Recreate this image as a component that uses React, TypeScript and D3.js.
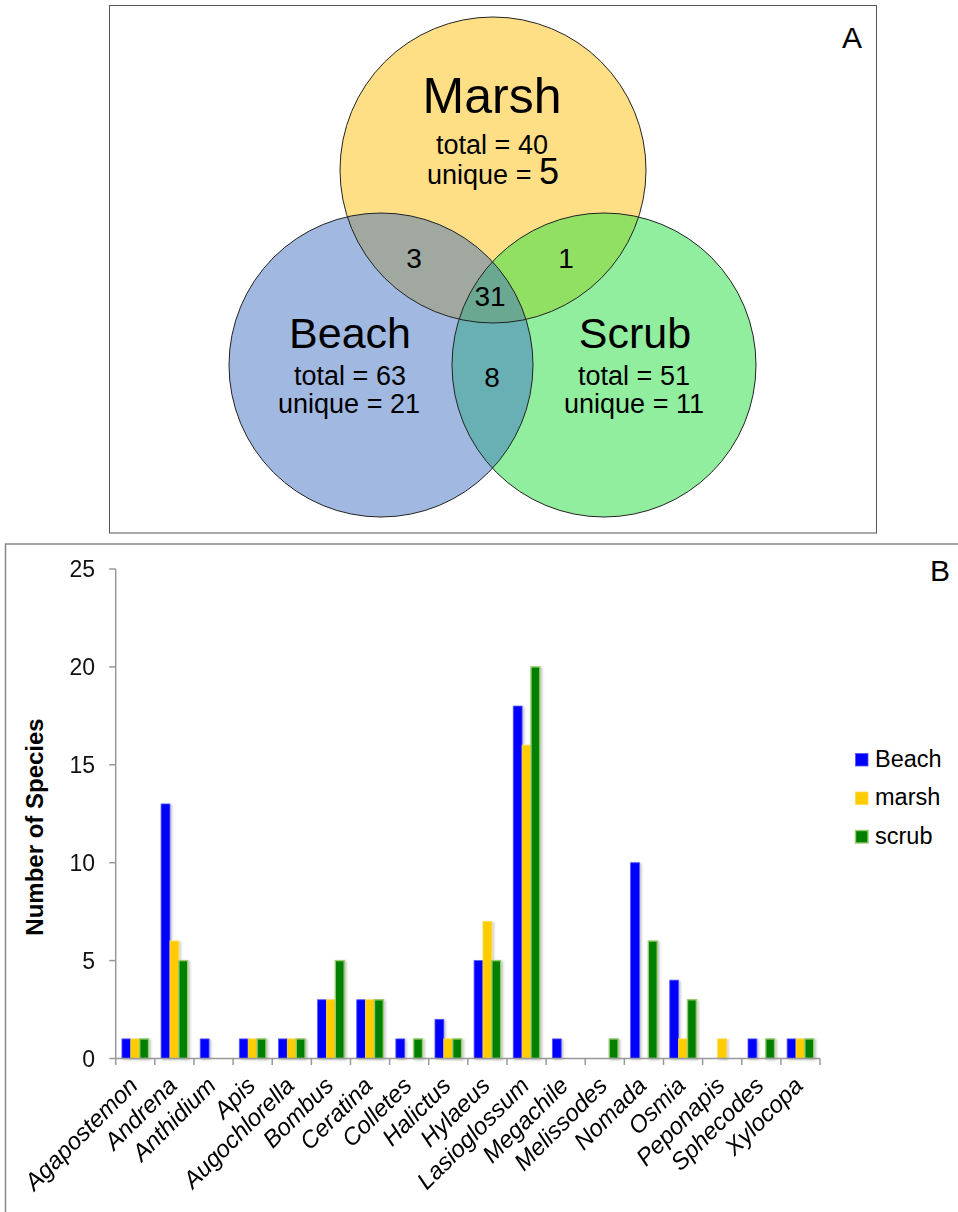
import React from "react";
import * as d3 from "d3";

// bar chart data (panel B)
const genera = [
  "Agapostemon", "Andrena", "Anthidium", "Apis", "Augochlorella", "Bombus",
  "Ceratina", "Colletes", "Halictus", "Hylaeus", "Lasioglossum", "Megachile",
  "Melissodes", "Nomada", "Osmia", "Peponapis", "Sphecodes", "Xylocopa",
];
const beach = [1, 13, 1, 1, 1, 3, 3, 1, 2, 5, 18, 1, 0, 10, 4, 0, 1, 1];
const marsh = [1, 6, 0, 1, 1, 3, 3, 0, 1, 7, 16, 0, 0, 0, 1, 1, 0, 1];
const scrub = [1, 5, 0, 1, 1, 5, 3, 1, 1, 5, 20, 0, 1, 6, 3, 0, 1, 1];
const seriesNames = ["Beach", "marsh", "scrub"];
const yTicks = [0, 5, 10, 15, 20, 25];

// venn data (panel A)
const vennSets = ["Marsh", "Beach", "Scrub"];
const vennTotals = [40, 63, 51];
const vennUnique = [5, 21, 11];
const overlapMB = 3;
const overlapMS = 1;
const overlapBS = 8;
const overlapAll = 31;

const FONT = "'Liberation Sans', Arial, Helvetica, sans-serif";
const barFill = ["#0000ff", "#ffcc00", "#008000"];
const barStroke = ["#5555ff", "#ffd94d", "#9acb72"];

// venn layout
const circ = {
  M: { cx: 493, cy: 170, r: 153 },
  B: { cx: 381, cy: 365, r: 152 },
  S: { cx: 604, cy: 365, r: 152 },
};

export default function App() {
  const x0 = d3.scaleBand<string>().domain(genera).range([115.7, 820]).padding(0);
  const groupW = x0.bandwidth() * 0.68;
  const x1 = d3.scaleBand<string>().domain(seriesNames).range([0, groupW]).padding(0);
  const y = d3.scaleLinear().domain([0, 25]).range([1058.5, 569]);
  const series = [beach, marsh, scrub];
  const axisX = x0.range()[0];
  const axisEnd = x0.range()[1];
  const boundaries = genera.map((g) => x0(g) as number).concat([axisEnd]);

  const c = (k: "M" | "B" | "S") => circ[k];

  return (
    <svg width={958} height={1212} style={{ position: "absolute", left: 0, top: 0, background: "#fff" }}>
      <defs>
        <clipPath id="clipM"><circle cx={c("M").cx} cy={c("M").cy} r={c("M").r} /></clipPath>
        <clipPath id="clipB"><circle cx={c("B").cx} cy={c("B").cy} r={c("B").r} /></clipPath>
        <filter id="shadow" x="-30%" y="-10%" width="160%" height="120%">
          <feDropShadow dx="1.5" dy="1" stdDeviation="1" floodColor="#000" floodOpacity="0.25" />
        </filter>
      </defs>

      {/* Panel A */}
      <rect x={109.5} y={5.5} width={767} height={527.5} fill="#fff" stroke="#555" strokeWidth={1} />
      <circle {...c("M")} fill="#fedf86" />
      <circle {...c("B")} fill="#a1b8e1" />
      <circle {...c("S")} fill="#91ee9f" />
      <g clipPath="url(#clipM)">
        <circle {...c("B")} fill="#a0a89f" />
        <circle {...c("S")} fill="#92e063" />
      </g>
      <g clipPath="url(#clipB)">
        <circle {...c("S")} fill="#68b0b3" />
      </g>
      <g clipPath="url(#clipM)">
        <g clipPath="url(#clipB)">
          <circle {...c("S")} fill="#6aa892" />
        </g>
      </g>
      {(["M", "B", "S"] as const).map((k) => (
        <circle key={k} {...c(k)} fill="none" stroke="#222" strokeWidth={1} />
      ))}

      <g fontFamily={FONT} fill="#000" textAnchor="middle">
        <text x={492} y={113} fontSize={50}>{vennSets[0]}</text>
        <text x={492} y={154} fontSize={27}>{`total = ${vennTotals[0]}`}</text>
        <text x={493} y={184} fontSize={27}>
          {"unique = "}<tspan fontSize={36}>{vennUnique[0]}</tspan>
        </text>

        <text x={350} y={348} fontSize={43}>{vennSets[1]}</text>
        <text x={350} y={385} fontSize={27}>{`total = ${vennTotals[1]}`}</text>
        <text x={349} y={413} fontSize={27}>{`unique = ${vennUnique[1]}`}</text>

        <text x={635} y={348} fontSize={43}>{vennSets[2]}</text>
        <text x={634} y={385} fontSize={27}>{`total = ${vennTotals[2]}`}</text>
        <text x={634} y={413} fontSize={27}>{`unique = ${vennUnique[2]}`}</text>

        <text x={414} y={268} fontSize={28}>{overlapMB}</text>
        <text x={566} y={268} fontSize={28}>{overlapMS}</text>
        <text x={490} y={306} fontSize={28}>{overlapAll}</text>
        <text x={492} y={387} fontSize={28}>{overlapBS}</text>
      </g>
      <text x={862} y={48} fontFamily={FONT} fontSize={30} textAnchor="end">A</text>

      {/* Panel B */}
      <rect x={5.5} y={544} width={980} height={700} fill="none" stroke="#888" strokeWidth={1.5} />
      <text x={950} y={581} fontFamily={FONT} fontSize={30} textAnchor="end">B</text>

      {/* bars */}
      <g filter="url(#shadow)">
        {genera.map((g, i) => (
          <g key={g} transform={`translate(${(x0(g) as number) + (x0.bandwidth() - groupW) / 2},0)`}>
            {series.map((s, j) =>
              s[i] > 0 ? (
                <rect
                  key={j}
                  x={x1(seriesNames[j]) as number}
                  y={y(s[i])}
                  width={x1.bandwidth()}
                  height={y(0) - y(s[i])}
                  fill={barFill[j]}
                  stroke={barStroke[j]}
                  strokeWidth={j === 2 ? 1.4 : 0.8}
                />
              ) : null
            )}
          </g>
        ))}
      </g>

      {/* axes */}
      <g stroke="#999" strokeWidth={1.5} fill="none">
        <line x1={axisX} x2={axisX} y1={y(25)} y2={y(0)} />
        {yTicks.map((t) => (
          <line key={t} x1={axisX - 6.5} x2={axisX} y1={y(t)} y2={y(t)} />
        ))}
        <line x1={axisX} x2={axisEnd} y1={y(0)} y2={y(0)} />
        {boundaries.map((b, i) => (
          <line key={i} x1={b} x2={b} y1={y(0)} y2={y(0) + 6.5} />
        ))}
      </g>
      <g fontFamily={FONT} fontSize={23} fill="#111" textAnchor="end">
        {yTicks.map((t) => (
          <text key={t} x={95} y={y(t)} dy="0.36em">{t}</text>
        ))}
      </g>
      <g fontFamily={FONT} fontSize={24} fontStyle="italic" fill="#000" textAnchor="end">
        {genera.map((g) => {
          const px = (x0(g) as number) + x0.bandwidth() / 2 + 4;
          const py = 1087;
          return (
            <text key={g} x={px} y={py} transform={`rotate(-45 ${px} ${py})`}>{g}</text>
          );
        })}
      </g>
      <text
        x={43}
        y={827}
        transform="rotate(-90 43 827)"
        fontFamily={FONT}
        fontSize={24}
        fontWeight="bold"
        textAnchor="middle"
      >
        Number of Species
      </text>

      {/* legend */}
      <g fontFamily={FONT} fontSize={23.5}>
        {seriesNames.map((n, j) => (
          <g key={n} transform={`translate(855,${753 + j * 38.5})`}>
            <rect x={0.5} y={0.5} width={12.5} height={12.5} fill={barFill[j]} stroke={barStroke[j]} strokeWidth={j === 2 ? 1.4 : 0.8} />
            <text x={20} y={13.5}>{n}</text>
          </g>
        ))}
      </g>
    </svg>
  );
}
